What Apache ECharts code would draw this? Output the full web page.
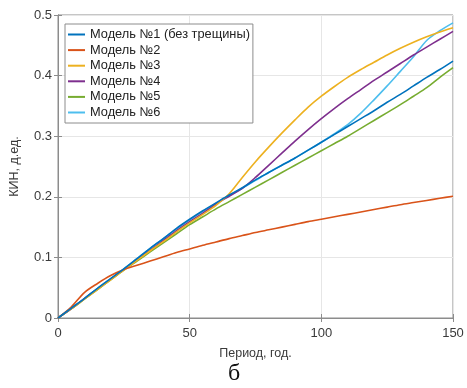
<!DOCTYPE html>
<html><head><meta charset="utf-8">
<script src="https://cdn.jsdelivr.net/npm/echarts@6/dist/echarts.min.js"></script>
<style>html,body{margin:0;padding:0;background:#fff}#c{width:467px;height:388px}</style>
</head><body><div id="c"></div>
<script>
var T = [0,5,10,15,20,25,30,35,40,45,50,55,60,65,70,75,80,85,90,95,100,105,110,115,120,125,130,135,140,145,150];
var names = ['Модель №1 (без трещины)','Модель №2','Модель №3','Модель №4','Модель №5','Модель №6'];
var m1 = [0,0.016,0.032,0.049,0.065,0.081,0.098,0.115,0.131,0.148,0.163,0.177,0.190,0.203,0.215,0.228,0.240,0.252,0.264,0.277,0.290,0.303,0.316,0.329,0.342,0.356,0.369,0.383,0.397,0.410,0.424];
var m2 = [0,0.018,0.042,0.057,0.070,0.080,0.087,0.094,0.101,0.108,0.114,0.120,0.1255,0.131,0.136,0.141,0.1455,0.150,0.1545,0.159,0.163,0.167,0.171,0.175,0.179,0.183,0.187,0.1905,0.194,0.1975,0.201];
var m3 = [0,0.015,0.031,0.047,0.063,0.079,0.095,0.111,0.126,0.142,0.157,0.171,0.186,0.205,0.232,0.258,0.282,0.305,0.327,0.348,0.366,0.382,0.397,0.410,0.422,0.434,0.445,0.455,0.464,0.472,0.479];
var m4 = [0,0.015,0.032,0.048,0.064,0.080,0.096,0.112,0.128,0.144,0.159,0.173,0.188,0.201,0.214,0.232,0.252,0.272,0.292,0.311,0.329,0.346,0.362,0.377,0.392,0.406,0.420,0.434,0.447,0.460,0.473];
var m5 = [0,0.015,0.031,0.047,0.063,0.079,0.094,0.109,0.124,0.139,0.154,0.167,0.180,0.192,0.204,0.216,0.228,0.240,0.252,0.264,0.276,0.288,0.300,0.313,0.326,0.339,0.352,0.366,0.380,0.397,0.413];
var m6 = [0,0.016,0.032,0.049,0.065,0.081,0.098,0.115,0.131,0.147,0.162,0.176,0.189,0.202,0.214,0.227,0.240,0.252,0.264,0.277,0.290,0.304,0.319,0.338,0.360,0.383,0.407,0.431,0.458,0.474,0.487];
var xTicks = [0,50,100,150];
var yTicks = [0,0.1,0.2,0.3,0.4,0.5];
var colors = ['#0072BD','#D95319','#EDB120','#7E2F8E','#77AC30','#4DBEEE'];
var all = [m1,m2,m3,m4,m5,m6];

var chart = echarts.init(document.getElementById('c'), null, {renderer:'canvas'});
var font = 'Liberation Sans, Arial, sans-serif';
var lblColor = '#3a3a3a';
var axisCol = '#8c8c8c';
function pairs(a){ return T.map(function(t,i){return [t,a[i]];}); }
var series = all.map(function(a,i){
  return {name:names[i], type:'line', data:pairs(a), showSymbol:false, symbol:'none', smooth:0.3,
    lineStyle:{width:1.6,color:colors[i]}, itemStyle:{color:colors[i]}, z: 10-i};
});
chart.setOption({
  animation:false,
  color:colors,
  grid:{left:57,right:14,top:15,bottom:70,show:true,borderColor:axisCol,borderWidth:1},
  legend:{
    show:true, orient:'vertical', left:65, top:24, icon:'rect', itemWidth:17, itemHeight:2, itemGap:2.6,
    padding:[4,3,4,3], borderColor:'#8c8c8c', borderWidth:1, backgroundColor:'#ffffff',
    textStyle:{fontFamily:font,fontSize:12.8,color:'#222'}, z:20
  },
  xAxis:[{type:'value',min:0,max:150,interval:50,
    name:'Период, год.',nameLocation:'middle',nameGap:29,
    nameTextStyle:{fontFamily:font,fontSize:12.5,color:lblColor},
    axisLine:{show:true,lineStyle:{color:axisCol}},
    axisTick:{show:true,inside:true,length:4,lineStyle:{color:axisCol}},
    axisLabel:{fontFamily:font,fontSize:13,color:lblColor,margin:9},
    splitLine:{show:true,lineStyle:{color:'#e6e6e6'}}},
   {type:'value',min:0,max:150,interval:50,position:'top',
    axisLine:{show:true,lineStyle:{color:axisCol}},
    axisTick:{show:true,inside:true,length:4,lineStyle:{color:axisCol}},
    axisLabel:{show:false},splitLine:{show:false}}],
  yAxis:[{type:'value',min:0,max:0.5,interval:0.1,
    name:'КИН, д.ед.',nameLocation:'middle',nameGap:37,
    nameTextStyle:{fontFamily:font,fontSize:12.5,color:lblColor},
    axisLine:{show:true,lineStyle:{color:axisCol}},
    axisTick:{show:true,inside:true,length:4,lineStyle:{color:axisCol}},
    axisLabel:{fontFamily:font,fontSize:13,color:lblColor,margin:6,
      formatter:function(v){return String(Math.round(v*10)/10);}},
    splitLine:{show:true,lineStyle:{color:'#e6e6e6'}}},
   {type:'value',min:0,max:0.5,interval:0.1,position:'right',
    axisLine:{show:true,lineStyle:{color:axisCol}},
    axisTick:{show:true,inside:true,length:4,lineStyle:{color:axisCol}},
    axisLabel:{show:false},splitLine:{show:false}}],
  graphic:[{type:'text',left:228,top:362,style:{text:'б',font:'24px "Liberation Serif", "Times New Roman", serif',fill:'#111'}}],
  series:series
});
</script></body></html>
